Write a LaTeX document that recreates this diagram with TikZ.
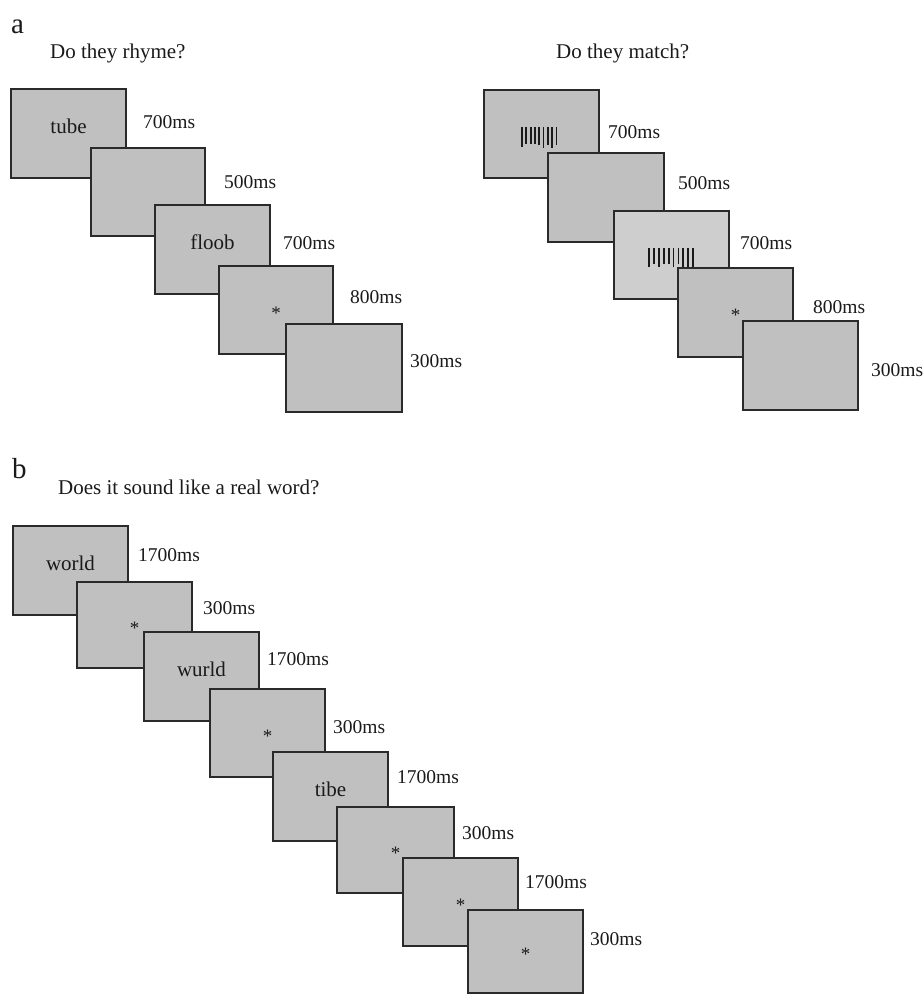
\documentclass[tikz,border=0pt]{standalone}
\usepackage{fontspec}
\setmainfont{Liberation Serif}
\usetikzlibrary{fit}
\definecolor{scrfill}{HTML}{C0C0C0}
\definecolor{scrlight}{HTML}{CECECE}
\definecolor{scredge}{HTML}{2A2A2A}
\definecolor{inkc}{HTML}{1A1A1A}
\tikzset{
  screen/.style={draw=scredge, fill=scrfill, line width=1.4pt, inner sep=0pt, rectangle,
    font=\fontsize{21}{24}\selectfont, text=inkc},
  lightscreen/.style={screen, fill=scrlight},
  lbl/.style={anchor=west, inner sep=0pt, font=\fontsize{19.5}{22}\selectfont, text=inkc},
  head/.style={anchor=west, inner sep=0pt, font=\fontsize{21}{24}\selectfont, text=inkc},
  panel/.style={anchor=west, inner sep=0pt, font=\fontsize{29}{32}\selectfont, text=inkc},
  starc/.style={inner sep=0pt, font=\fontsize{19}{22}\selectfont, text=inkc, yshift=-3pt},
  bar/.style={draw=inkc, line width=1.8pt}
}
\begin{document}
\begin{tikzpicture}[x=1pt,y=-1pt]
\useasboundingbox (0,0) rectangle (923,994);
% ---------- panel a ----------
\node[panel] (pa) at (11,27) {a};
\node[head] (qa1) at (50,53) {Do they rhyme?};
\node[head] (qa2) at (556,53) {Do they match?};
% left sequence
\node[screen, fit={(11,89) (126,178)}] (a1) {tube};
\node[lbl] (la1) at (143,122) {700ms};
\node[screen, fit={(91,148) (205,236)}] (a2) {};
\node[lbl] (la2) at (224,182) {500ms};
\node[screen, fit={(155,205) (270,294)}] (a3) {floob};
\node[lbl] (la3) at (283,243) {700ms};
\node[screen, fit={(219,266) (333,354)}] (a4) {};
\node[starc] (sa4) at (a4.center) {*};
\node[lbl] (la4) at (350,297) {800ms};
\node[screen, fit={(286,324) (402,412)}] (a5) {};
\node[lbl] (la5) at (410,361) {300ms};
% right sequence
\node[screen, fit={(484,90) (599,178)}] (r1) {};
\foreach \i/\b in {0/147,1/144,2/144,3/144,4/145,5/148,6/145,7/148,8/145}
  \draw[bar] (522+4.3*\i,127) -- (522+4.3*\i,\b);
\node[lbl] (lr1) at (608,132) {700ms};
\node[screen, fit={(548,153) (664,242)}] (r2) {};
\node[lbl] (lr2) at (678,183) {500ms};
\node[lightscreen, fit={(614,211) (729,299)}] (r3) {};
\foreach \i/\b in {0/267,1/264,2/267,3/264,4/264,5/267,6/264,7/267,8/267,9/267}
  \draw[bar] (649+4.9*\i,248) -- (649+4.9*\i,\b);
\node[lbl] (lr3) at (740,243) {700ms};
\node[screen, fit={(678,268) (793,357)}] (r4) {};
\node[starc] (sr4) at (r4.center) {*};
\node[lbl] (lr4) at (813,307) {800ms};
\node[screen, fit={(743,321) (858,410)}] (r5) {};
\node[lbl] (lr5) at (871,370) {300ms};
% ---------- panel b ----------
\node[panel] (pb) at (12,469) {b};
\node[head] (qb) at (58,487) {Does it sound like a real word?};
\node[screen, fit={(13,526) (128,615)}] (b1) {world};
\node[lbl] (lb1) at (138,555) {1700ms};
\node[screen, fit={(77,582) (192,668)}] (b2) {};
\node[starc] (sb2) at (b2.center) {*};
\node[lbl] (lb2) at (203,608) {300ms};
\node[screen, fit={(144,632) (259,721)}] (b3) {wurld};
\node[lbl] (lb3) at (267,659) {1700ms};
\node[screen, fit={(210,689) (325,777)}] (b4) {};
\node[starc] (sb4) at (b4.center) {*};
\node[lbl] (lb4) at (333,727) {300ms};
\node[screen, fit={(273,752) (388,841)}] (b5) {tibe};
\node[lbl] (lb5) at (397,777) {1700ms};
\node[screen, fit={(337,807) (454,893)}] (b6) {};
\node[starc] (sb6) at (b6.center) {*};
\node[lbl] (lb6) at (462,833) {300ms};
\node[screen, fit={(403,858) (518,946)}] (b7) {};
\node[starc] (sb7) at (b7.center) {*};
\node[lbl] (lb7) at (525,882) {1700ms};
\node[screen, fit={(468,910) (583,993)}] (b8) {};
\node[starc] (sb8) at (b8.center) {*};
\node[lbl] (lb8) at (590,939) {300ms};
\end{tikzpicture}
\end{document}
